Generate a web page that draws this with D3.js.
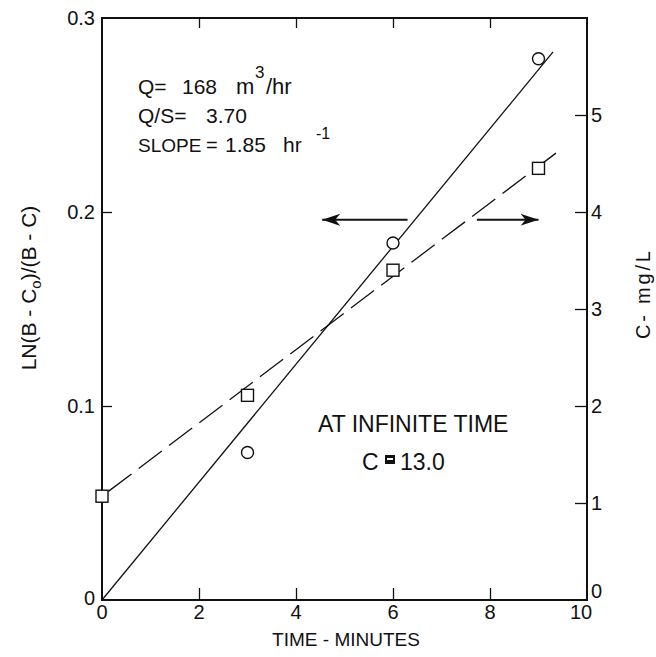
<!DOCTYPE html>
<html>
  <head>
    <meta charset="utf-8">
    <script src="https://d3js.org/d3.v7.min.js"></script>
    <style>
      body { margin: 0; background: #fff; }
      text { font-family: "Liberation Sans", Arial, Helvetica, sans-serif; fill: #111; }
    </style>
  </head>
  <body>
    <div id="my_dataviz"></div>
    <script>
    // data
    var circleTime = [3, 6, 9];
    var circleLn = [0.076, 0.184, 0.279];        // left axis, LN(B-Co)/(B-C)
    var squareTime = [0, 3, 6, 9];
    var squareC = [1.07, 2.11, 3.40, 4.45];      // right axis, C mg/L
    var solidFit = [[0, 0], [9.3, 0.2825]];       // left axis units
    var dashedFit = [[0, 1.07], [9.5, 4.66]];     // right axis units
    var xTicks = [0, 2, 4, 6, 8, 10];
    var leftTicks = [0, 0.1, 0.2, 0.3];
    var rightTicks = [0, 1, 2, 3, 4, 5];
    // arrows: [from, to] in minutes, at a height on the left axis
    var arrowLeft = [6.3, 4.54];
    var arrowRight = [7.73, 9.0];
    var arrowLevel = 0.196;

    var margin = {top: 18, right: 69, bottom: 57, left: 102},
      W = 656, H = 657,
      width = W - margin.left - margin.right,
      height = H - margin.top - margin.bottom;

    var svg = d3.select("#my_dataviz")
      .append("svg")
      .attr("width", W)
      .attr("height", H);
    var g = svg.append("g")
      .attr("transform", "translate(" + margin.left + "," + margin.top + ")");

    var x = d3.scaleLinear().domain([0, 10]).range([0, width]);
    var yL = d3.scaleLinear().domain([0, 0.3]).range([height, 0]);
    var yR = d3.scaleLinear().domain([0, 6]).range([height, 0]);

    // inward ticks, no labels drawn by the axis itself
    function ticksOnly(axis) {
      return axis.tickSizeOuter(0).tickFormat("");
    }
    g.append("g").attr("transform", "translate(0," + height + ")")
      .call(ticksOnly(d3.axisTop(x).tickValues([2, 4, 6, 8]).tickSizeInner(12)));
    g.append("g")
      .call(ticksOnly(d3.axisBottom(x).tickValues([2, 4, 6, 8]).tickSizeInner(10)));
    g.append("g")
      .call(ticksOnly(d3.axisRight(yL).tickValues([0.1, 0.2]).tickSizeInner(10)));
    g.append("g").attr("transform", "translate(" + width + ",0)")
      .call(ticksOnly(d3.axisLeft(yR).tickValues([1, 2, 3, 4, 5]).tickSizeInner(12)));
    g.selectAll(".domain").remove();
    g.selectAll(".tick line").attr("stroke", "#111").attr("stroke-width", 1.3);

    // frame
    g.append("rect")
      .attr("width", width).attr("height", height)
      .attr("fill", "none").attr("stroke", "#111").attr("stroke-width", 2);

    // tick labels
    g.selectAll(".xlab").data(xTicks).enter().append("text")
      .attr("x", function (d) { return x(d) - (d === 10 ? 6 : 0); })
      .attr("y", height + 19)
      .attr("text-anchor", "middle")
      .style("font-size", "20px")
      .text(function (d) { return d; });
    g.selectAll(".ylab").data(leftTicks).enter().append("text")
      .attr("x", -7)
      .attr("y", function (d) { return yL(d) + 7 - (d === 0 ? 2 : 0); })
      .attr("text-anchor", "end")
      .style("font-size", "20px")
      .text(function (d) { return d === 0 ? "0" : d3.format(".1f")(d); });
    g.selectAll(".rlab").data(rightTicks).enter().append("text")
      .attr("x", width + 4)
      .attr("y", function (d) { return yR(d) + 7 - (d === 0 ? 9 : 0); })
      .attr("text-anchor", "start")
      .style("font-size", "20px")
      .text(function (d) { return d; });

    // axis titles
    svg.append("text")
      .attr("x", 346)
      .attr("y", 646)
      .attr("text-anchor", "middle")
      .style("font-size", "19px")
      .text("TIME - MINUTES");
    var lt = svg.append("text")
      .attr("transform", "translate(36,288) rotate(-90)")
      .attr("text-anchor", "middle")
      .style("font-size", "21px");
    lt.append("tspan").text("LN(B - C");
    lt.append("tspan").attr("dy", 5).style("font-size", "15px").text("o");
    lt.append("tspan").attr("dy", -5).text(")/(B - C)");
    svg.append("text")
      .attr("transform", "translate(650,295) rotate(-90)")
      .attr("text-anchor", "middle")
      .attr("textLength", 88)
      .style("font-size", "20px")
      .text("C- mg/L");

    // fitted lines
    var lineL = d3.line().x(function (d) { return x(d[0]); }).y(function (d) { return yL(d[1]); });
    var lineR = d3.line().x(function (d) { return x(d[0]); }).y(function (d) { return yR(d[1]); });
    g.append("path").datum(solidFit)
      .attr("d", lineL).attr("fill", "none").attr("stroke", "#111").attr("stroke-width", 1.3);
    g.append("path").datum(dashedFit)
      .attr("d", lineR).attr("fill", "none").attr("stroke", "#111").attr("stroke-width", 1.3)
      .attr("stroke-dasharray", "29,9").attr("stroke-dashoffset", -8);

    // markers
    g.selectAll(".pt").data(circleTime).enter().append("circle")
      .attr("cx", function (d) { return x(d); })
      .attr("cy", function (d, i) { return yL(circleLn[i]); })
      .attr("r", 6)
      .attr("fill", "#fff").attr("stroke", "#111").attr("stroke-width", 1.4);
    g.selectAll(".sq").data(squareTime).enter().append("rect")
      .attr("x", function (d) { return x(d) - 6; })
      .attr("y", function (d, i) { return yR(squareC[i]) - 6; })
      .attr("width", 12).attr("height", 12)
      .attr("fill", "#fff").attr("stroke", "#111").attr("stroke-width", 1.4);

    // arrows
    var defs = svg.append("defs");
    defs.append("marker").attr("id", "head")
      .attr("viewBox", "0 0 18 12").attr("refX", 18).attr("refY", 6)
      .attr("markerWidth", 18).attr("markerHeight", 12)
      .attr("markerUnits", "userSpaceOnUse").attr("orient", "auto")
      .append("path").attr("d", "M0,0 L18,6 L0,12 L5,6 Z").attr("fill", "#111");
    [arrowLeft, arrowRight].forEach(function (a) {
      g.append("line")
        .attr("x1", x(a[0])).attr("x2", x(a[1]))
        .attr("y1", yL(arrowLevel)).attr("y2", yL(arrowLevel))
        .attr("stroke", "#111").attr("stroke-width", 1.8)
        .attr("marker-end", "url(#head)");
    });

    // annotations: [x, baseline, text, font size]
    var notes = [
      [138, 94, "Q=", 21],
      [182, 94, "168", 21],
      [236, 94, "m", 22],
      [255, 78, "3", 17],
      [266, 94, "/hr", 22],
      [138, 123, "Q/S=", 21],
      [206, 123, "3.70", 21],
      [138, 152, "SLOPE", 19],
      [206, 152, "=", 20],
      [225, 152, "1.85", 21],
      [283, 152, "hr", 21],
      [316, 139, "-1", 16],
      [318, 432, "AT INFINITE TIME", 23],
      [362, 470, "C", 23],
      [400, 470, "13.0", 23]
    ];
    notes.forEach(function (n) {
      svg.append("text").attr("x", n[0]).attr("y", n[1])
        .style("font-size", n[3] + "px").text(n[2]);
    });
    // the smudged equals sign in the scan
    svg.append("rect").attr("x", 385).attr("y", 455).attr("width", 10).attr("height", 9).attr("fill", "#111");
    svg.append("rect").attr("x", 387).attr("y", 458).attr("width", 6).attr("height", 2).attr("fill", "#fff");
    </script>
  </body>
</html>
